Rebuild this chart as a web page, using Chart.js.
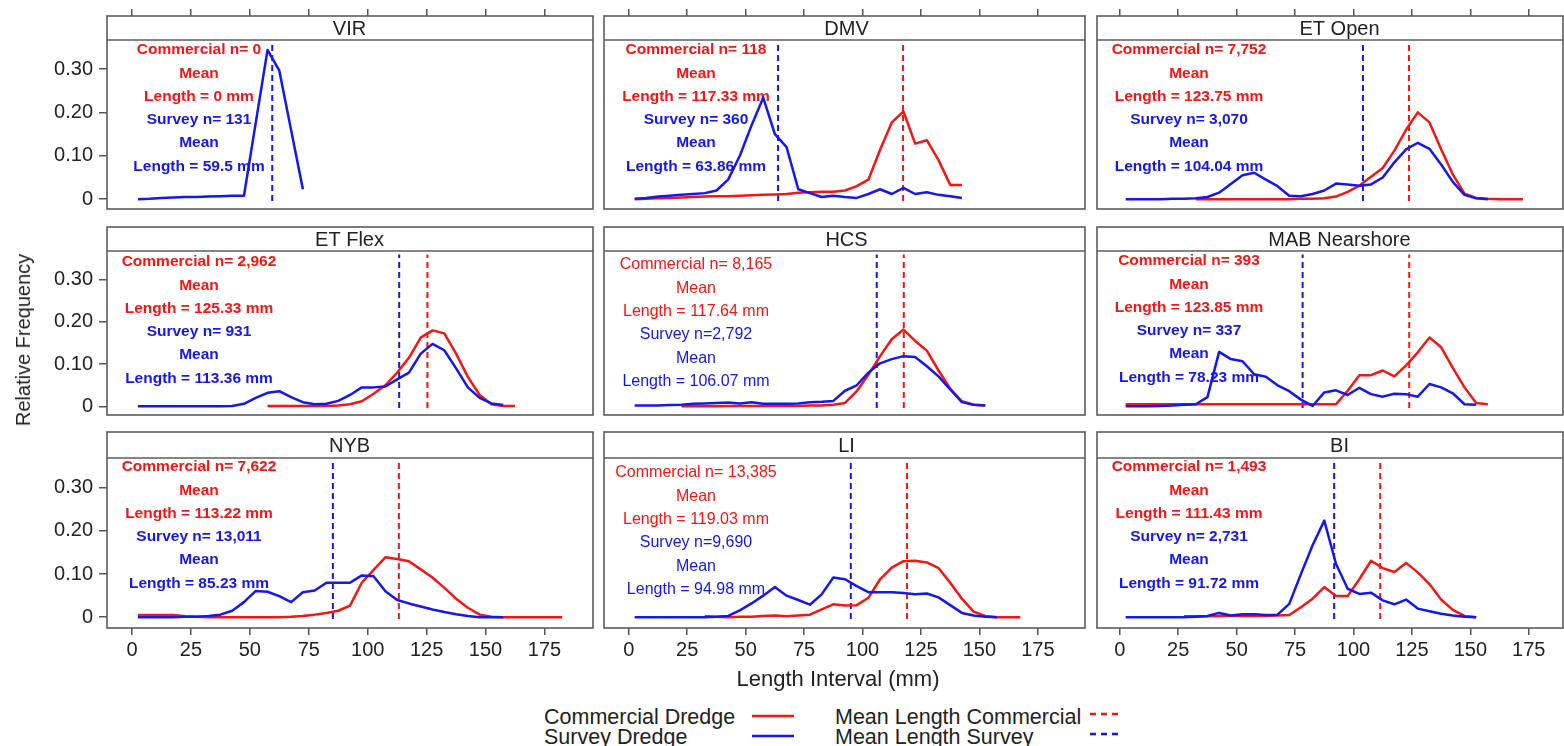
<!DOCTYPE html>
<html>
<head>
<meta charset="utf-8">
<script src="https://cdn.jsdelivr.net/npm/chart.js@4/dist/chart.umd.min.js"></script>
<style>
html,body{margin:0;padding:0;background:#fff;overflow:hidden;}
#page{position:relative;width:1564px;height:746px;overflow:hidden;font-family:"Liberation Sans",Arial,Helvetica,sans-serif;color:#222;}
#page canvas{position:absolute;}
.txt{position:absolute;white-space:nowrap;line-height:22px;}
svg{position:absolute;overflow:visible;}
</style>
</head>
<body>
<div id="page"></div>
<script>
// ---------------- DATA ----------------
const panelNames = ['VIR','DMV','ET Open','ET Flex','HCS','MAB Nearshore','NYB','LI','BI'];
const lengthBins = [2.5,7.5,12.5,17.5,22.5,27.5,32.5,37.5,42.5,47.5,52.5,57.5,62.5,67.5,72.5,77.5,82.5,87.5,92.5,97.5,102.5,107.5,112.5,117.5,122.5,127.5,132.5,137.5,142.5,147.5,152.5,157.5,162.5,167.5,172.5,177.5,182.5];
const xTickValues = [0,25,50,75,100,125,150,175];
const yTickValues = [0,0.1,0.2,0.3];
const yTickLabels = ['0','0.10','0.20','0.30'];

const surveyVIR = [0.000,0.001,0.003,0.004,0.005,0.005,0.006,0.007,0.008,0.008,null,0.344,0.296,null,0.023];
const commercialVIR = [];
const surveyDMV = [0.001,0.003,0.006,0.008,0.010,0.012,0.014,0.020,0.045,0.100,0.170,0.234,0.150,0.120,0.023,0.014,0.005,0.008,0.005,0.003,0.012,0.023,0.012,0.026,0.012,0.016,0.010,0.007,0.003];
const commercialDMV = [0.000,0.001,0.002,0.003,0.004,0.005,0.006,0.007,0.007,0.008,0.009,0.010,0.011,0.012,0.015,0.016,0.017,0.017,0.020,0.030,0.045,0.114,0.177,0.202,0.128,0.136,0.090,0.033,0.033];
const surveyETOpen = [0.000,0.000,0.000,0.000,0.001,0.001,0.002,0.005,0.015,0.035,0.055,0.061,0.045,0.030,0.008,0.007,0.012,0.020,0.036,0.034,0.031,0.034,0.050,0.085,0.115,0.130,0.116,0.080,0.040,0.010,0.002,0.000];
const commercialETOpen = [null,null,null,null,null,null,0.000,0.000,0.000,0.000,0.000,0.000,0.000,0.000,0.000,0.001,0.001,0.002,0.006,0.017,0.031,0.052,0.072,0.112,0.160,0.200,0.177,0.115,0.057,0.013,0.003,0.001,0.000,0.000,0.000];
const surveyETFlex = [0.000,0.000,0.000,0.000,0.000,0.000,0.000,0.000,0.001,0.006,0.020,0.032,0.036,0.022,0.010,0.005,0.006,0.013,0.027,0.045,0.045,0.047,0.064,0.080,0.125,0.148,0.133,0.090,0.045,0.020,0.007,0.003];
const commercialETFlex = [null,null,null,null,null,null,null,null,null,null,null,0.001,0.001,0.001,0.001,0.001,0.001,0.002,0.005,0.012,0.030,0.050,0.080,0.115,0.163,0.180,0.173,0.125,0.070,0.027,0.005,0.001,0.001];
const surveyHCS = [0.002,0.002,0.002,0.003,0.004,0.006,0.007,0.008,0.009,0.007,0.010,0.006,0.006,0.006,0.007,0.010,0.011,0.013,0.037,0.050,0.080,0.102,0.112,0.119,0.117,0.095,0.071,0.040,0.010,0.004,0.002];
const commercialHCS = [null,null,null,null,0.000,0.000,0.000,0.000,0.001,0.001,0.001,0.001,0.001,0.001,0.001,0.002,0.002,0.004,0.008,0.036,0.075,0.119,0.159,0.182,0.155,0.132,0.085,0.042,0.012,0.004,0.002];
const surveyMAB = [0.000,0.000,0.000,0.001,0.002,0.004,0.005,0.022,0.129,0.112,0.107,0.076,0.070,0.050,0.036,0.016,0.001,0.033,0.038,0.027,0.044,0.029,0.023,0.030,0.029,0.023,0.053,0.045,0.031,0.005,0.004];
const commercialMAB = [0.005,0.005,0.005,0.005,0.005,0.005,0.005,0.005,0.005,0.005,0.005,0.005,0.005,0.005,0.005,0.005,0.005,0.005,0.005,0.037,0.074,0.074,0.085,0.071,0.097,0.128,0.163,0.140,0.091,0.045,0.008,0.005];
const surveyNYB = [0.000,0.000,0.000,0.000,0.001,0.001,0.003,0.006,0.015,0.035,0.061,0.059,0.049,0.035,0.058,0.062,0.080,0.080,0.080,0.097,0.095,0.060,0.040,0.032,0.025,0.018,0.012,0.007,0.003,0.000,0.000,0.000];
const commercialNYB = [0.005,0.005,0.005,0.005,0.002,0.001,0.000,0.000,0.000,0.000,0.000,0.000,0.000,0.001,0.003,0.006,0.010,0.015,0.027,0.080,0.110,0.139,0.135,0.130,0.111,0.092,0.068,0.043,0.022,0.006,0.001,0.000,0.000,0.000,0.000,0.000,0.000];
const surveyLI = [0.000,0.000,0.000,0.000,0.000,0.000,0.000,0.001,0.003,0.016,0.032,0.050,0.070,0.050,0.040,0.029,0.053,0.092,0.088,0.072,0.058,0.058,0.058,0.056,0.053,0.055,0.046,0.028,0.010,0.004,0.001,0.000];
const commercialLI = [null,null,null,null,null,null,0.002,0.001,0.000,0.001,0.001,0.003,0.004,0.002,0.004,0.006,0.018,0.030,0.027,0.028,0.045,0.088,0.115,0.130,0.131,0.127,0.114,0.080,0.043,0.013,0.003,0.000,0.000,0.000];
const surveyBI = [0.000,0.000,0.000,0.000,0.000,0.000,0.001,0.003,0.010,0.004,0.007,0.007,0.005,0.006,0.031,0.100,0.167,0.224,0.124,0.066,0.054,0.057,0.039,0.030,0.041,0.020,0.014,0.008,0.004,0.001,0.000];
const commercialBI = [null,null,null,null,null,0.002,0.002,0.002,0.003,0.003,0.003,0.003,0.003,0.004,0.005,0.023,0.043,0.070,0.049,0.049,0.088,0.131,0.114,0.105,0.126,0.104,0.077,0.041,0.017,0.003,0.000];

const commercialN = ['0','118','7,752','2,962','8,165','393','7,622','13,385','1,493'];
const surveyNLabels = ['Survey n= 131','Survey n= 360','Survey n= 3,070','Survey n= 931','Survey n=2,792','Survey n= 337','Survey n= 13,011','Survey n=9,690','Survey n= 2,731'];
const commercialMeans = [0,117.33,123.75,125.33,117.64,123.85,113.22,119.03,111.43];
const surveyMeans = [59.5,63.86,104.04,113.36,106.07,78.23,85.23,94.98,91.72];

const surveySeries = [surveyVIR,surveyDMV,surveyETOpen,surveyETFlex,surveyHCS,surveyMAB,surveyNYB,surveyLI,surveyBI];
const commercialSeries = [commercialVIR,commercialDMV,commercialETOpen,commercialETFlex,commercialHCS,commercialMAB,commercialNYB,commercialLI,commercialBI];

// ---------------- LAYOUT / STYLE ----------------
const FONT = '"Liberation Sans", Arial, Helvetica, sans-serif';
const RED = 'rgb(242,22,22)', BLUE = 'rgb(22,22,238)';
const colLeft = [107, 600, 1093], colRight = [593, 1085, 1563], colZero = [132, 625, 1116];
const rowTop = [16, 223, 428], rowBottom = [213, 419, 628], rowZero = [203, 410, 617];
const rowPxPerUnit = [443, 440, 440];
const headerH = [24, 24, 26];
const pxPerMm = 2.357;
const annotFirst = [10,10,10,11,14,10,9,15,9];
const annotBold = [true,true,true,true,false,true,true,false,true];
const meanLineSpan = [-0.004, 0.36];

Chart.defaults.font.family = FONT;
Chart.defaults.color = '#222';

const page = document.getElementById('page');

function decorPlugin(p, r) {
  return {
    id: 'decor' + p,
    beforeDatasetsDraw(chart) {
      const ctx = chart.ctx, a = chart.chartArea;
      const lines = [
        ['Commercial n= ' + commercialN[p], RED], ['Mean', RED], ['Length = ' + commercialMeans[p] + ' mm', RED],
        [surveyNLabels[p], BLUE], ['Mean', BLUE], ['Length = ' + surveyMeans[p] + ' mm', BLUE]
      ];
      ctx.save();
      ctx.font = (annotBold[p] ? 'bold 15.5px ' : '16px ') + FONT;
      ctx.textAlign = 'center';
      ctx.textBaseline = 'middle';
      lines.forEach((ln, i) => {
        ctx.fillStyle = ln[1];
        ctx.fillText(ln[0], a.left + 92, a.top + headerH[r] + annotFirst[p] + i * 23.3);
      });
      ctx.restore();
    },
    afterDraw(chart) {
      const ctx = chart.ctx, a = chart.chartArea;
      ctx.save();
      ctx.strokeStyle = '#5c5c5c';
      ctx.lineWidth = 1.6;
      ctx.strokeRect(a.left, a.top, a.right - a.left, a.bottom - a.top);
      ctx.beginPath();
      ctx.moveTo(a.left, a.top + headerH[r]);
      ctx.lineTo(a.right, a.top + headerH[r]);
      ctx.stroke();
      ctx.fillStyle = '#222';
      ctx.font = '20px ' + FONT;
      ctx.textAlign = 'center';
      ctx.textBaseline = 'middle';
      ctx.fillText(panelNames[p], a.left + 242.5, a.top + headerH[r] / 2 + 1);
      ctx.restore();
    }
  };
}

function seriesPoints(arr) {
  return lengthBins.map((x, i) => ({x: x, y: arr[i]})).filter(d => d.y !== null && d.y !== undefined);
}

const gridOpts = (len) => ({display: true, drawOnChartArea: false, drawTicks: true, tickLength: len, color: '#555', lineWidth: 1.5});

for (let p = 0; p < 9; p++) {
  const r = Math.floor(p / 3), c = p % 3;
  const L = colLeft[c], R = colRight[c], T = rowTop[r], B = rowBottom[r];
  const LM = c === 0 ? 100 : 4, RM = 4, TM = r === 0 ? 16 : 4, BM = r === 2 ? 44 : 4;
  const cv = document.createElement('canvas');
  cv.width = (R - L) + LM + RM;
  cv.height = (B - T) + TM + BM;
  cv.style.left = (L - LM) + 'px';
  cv.style.top = (T - TM) + 'px';
  page.appendChild(cv);

  const xMin = (L - colZero[c]) / pxPerMm, xMax = (R - colZero[c]) / pxPerMm;
  const yMin = -(B - rowZero[r]) / rowPxPerUnit[r], yMax = (rowZero[r] - T) / rowPxPerUnit[r];

  const datasets = [
    {label: 'Survey Dredge', data: seriesPoints(surveySeries[p]), borderColor: BLUE, borderWidth: 2.5, pointRadius: 0, tension: 0, borderJoinStyle: 'round', order: 1},
    {label: 'Commercial Dredge', data: seriesPoints(commercialSeries[p]), borderColor: RED, borderWidth: 2.5, pointRadius: 0, tension: 0, borderJoinStyle: 'round', order: 2},
    {label: 'Mean Length Survey', data: [{x: surveyMeans[p], y: meanLineSpan[0]}, {x: surveyMeans[p], y: meanLineSpan[1]}], borderColor: BLUE, borderWidth: 2, borderDash: [6, 4], pointRadius: 0, order: 3}
  ];
  if (commercialN[p] !== '0') {
    datasets.push({label: 'Mean Length Commercial', data: [{x: commercialMeans[p], y: meanLineSpan[0]}, {x: commercialMeans[p], y: meanLineSpan[1]}], borderColor: RED, borderWidth: 2, borderDash: [6, 4], pointRadius: 0, order: 4});
  }

  new Chart(cv, {
    type: 'line',
    data: {datasets: datasets},
    plugins: [decorPlugin(p, r)],
    options: {
      responsive: false,
      animation: false,
      devicePixelRatio: 1,
      events: [],
      layout: {
        autoPadding: false,
        padding: {left: c === 0 ? 0 : LM, right: RM, top: r === 0 ? 0 : TM, bottom: r === 2 ? 0 : BM}
      },
      plugins: {legend: {display: false}, title: {display: false}, tooltip: {enabled: false}},
      scales: {
        x: {
          type: 'linear', position: 'bottom', min: xMin, max: xMax, display: r === 2,
          afterBuildTicks: s => { s.ticks = xTickValues.map(v => ({value: v})); },
          afterFit: s => { s.height = BM; s.paddingLeft = 0; s.paddingRight = 0; },
          ticks: {autoSkip: false, maxRotation: 0, minRotation: 0, padding: 3, color: '#222', font: {size: 20}, callback: (v) => String(v)},
          grid: gridOpts(7),
          border: {display: false}
        },
        xt: {
          type: 'linear', position: 'top', min: xMin, max: xMax, display: r === 0,
          afterBuildTicks: s => { s.ticks = xTickValues.map(v => ({value: v})); },
          afterFit: s => { s.height = TM; s.paddingLeft = 0; s.paddingRight = 0; },
          ticks: {display: false},
          grid: gridOpts(7),
          border: {display: false}
        },
        y: {
          type: 'linear', position: 'left', min: yMin, max: yMax, display: c === 0,
          afterBuildTicks: s => { s.ticks = yTickValues.map(v => ({value: v})); },
          afterFit: s => { s.width = LM; s.paddingTop = 0; s.paddingBottom = 0; },
          ticks: {padding: 6, color: '#222', font: {size: 20}, callback: (v, i) => yTickLabels[i]},
          grid: gridOpts(8),
          border: {display: false}
        }
      }
    }
  });
}

// ---------------- AXIS TITLES & LEGEND ----------------
function addText(text, left, top, size, extra) {
  const d = document.createElement('div');
  d.className = 'txt';
  d.textContent = text;
  d.style.left = left + 'px';
  d.style.top = top + 'px';
  d.style.fontSize = size + 'px';
  if (extra) Object.assign(d.style, extra);
  page.appendChild(d);
  return d;
}
addText('Length Interval (mm)', 838, 668, 22, {transform: 'translateX(-50%)'});
addText('Relative Frequency', 23, 340, 20, {transform: 'translate(-50%,-50%) rotate(-90deg)', lineHeight: '22px'});

addText('Commercial Dredge', 544, 706, 21.5);
addText('Survey Dredge', 544, 726, 21.5);
addText('Mean Length Commercial', 835, 706, 21.5);
addText('Mean Length Survey', 835, 726, 21.5);

function addLine(x1, x2, y, color, dash) {
  const ns = 'http://www.w3.org/2000/svg';
  const s = document.createElementNS(ns, 'svg');
  s.setAttribute('width', x2 - x1);
  s.setAttribute('height', 4);
  s.style.left = x1 + 'px';
  s.style.top = (y - 2) + 'px';
  const l = document.createElementNS(ns, 'line');
  l.setAttribute('x1', 0); l.setAttribute('x2', x2 - x1);
  l.setAttribute('y1', 2); l.setAttribute('y2', 2);
  l.setAttribute('stroke', color);
  l.setAttribute('stroke-width', 2.5);
  if (dash) l.setAttribute('stroke-dasharray', dash);
  s.appendChild(l);
  page.appendChild(s);
}
addLine(752, 794, 716, RED);
addLine(752, 794, 736, BLUE);
addLine(1090, 1122, 714, RED, '6 5');
addLine(1090, 1122, 734, BLUE, '6 5');
</script>
</body>
</html>
